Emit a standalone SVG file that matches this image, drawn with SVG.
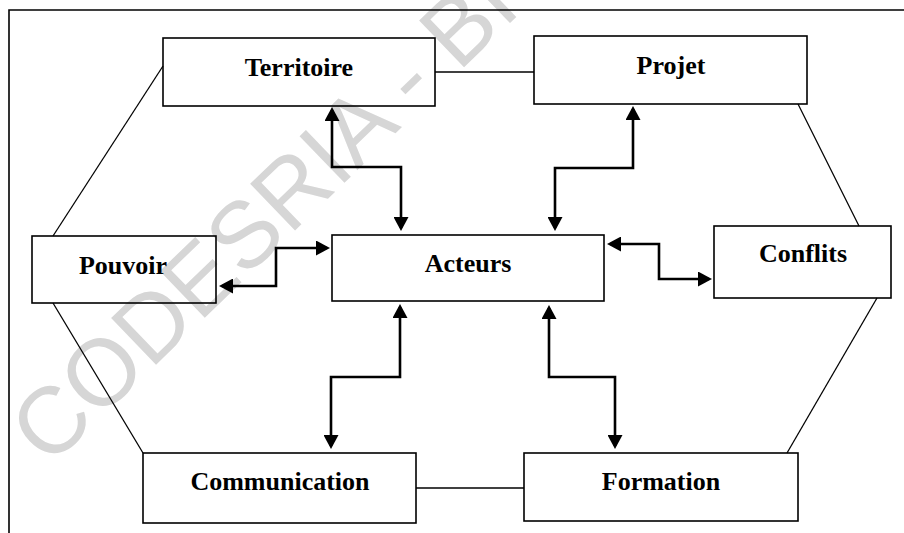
<svg xmlns="http://www.w3.org/2000/svg" width="904" height="533" viewBox="0 0 904 533">
  <style>
    .box { fill: none; stroke: #000; stroke-width: 1.6; }
    .label { font-family: "Liberation Serif", "Times New Roman", serif; font-weight: bold; font-size: 26px; fill: #000; text-anchor: middle; }
    .edge { fill: none; stroke: #000; stroke-width: 1.3; }
    .link { fill: none; stroke: #000; stroke-width: 2.6; stroke-linejoin: miter; marker-start: url(#head); marker-end: url(#head); }
    .frame { fill: none; stroke: #000; stroke-width: 1.6; }
    .mark { font-family: "Liberation Sans", Arial, sans-serif; font-size: 94px; fill: #d6d6d6; }
  </style>
  <defs>
    <marker id="head" viewBox="0 0 14 15" refX="11" refY="7.5" markerWidth="14" markerHeight="15" markerUnits="userSpaceOnUse" orient="auto-start-reverse">
      <path d="M0,0 L14,7.5 L0,15 Z" fill="#000"/>
    </marker>
  </defs>

  <!-- background watermark -->
  <text class="mark" transform="translate(49,468) rotate(-44)">CODESRIA - BI</text>

  <!-- page frame -->
  <path class="frame" d="M9,533 V10 H904"/>

  <!-- connectors -->
  <g id="connectors">
    <!-- outer ring -->
    <line class="edge" x1="163" y1="66" x2="53" y2="236"/>
    <line class="edge" x1="53" y1="303" x2="143" y2="453"/>
    <line class="edge" x1="435" y1="72" x2="534" y2="72"/>
    <line class="edge" x1="798" y1="104" x2="859" y2="226"/>
    <line class="edge" x1="877" y1="298" x2="787" y2="453"/>
    <line class="edge" x1="416" y1="488" x2="524" y2="488"/>
    <!-- links to Acteurs -->
    <path class="link" d="M332,110 V167 H401 V228"/>
    <path class="link" d="M633,109 V168 H555 V228"/>
    <path class="link" d="M327,248 H276 V286 H222"/>
    <path class="link" d="M610,244 H659 V279 H709"/>
    <path class="link" d="M400,307 V377 H331 V446"/>
    <path class="link" d="M549,308 V377 H615 V446"/>
  </g>

  <g id="territoire">
    <rect class="box" x="163" y="38" width="272" height="68"/>
    <text class="label" x="299" y="76">Territoire</text>
  </g>
  <g id="projet">
    <rect class="box" x="534" y="36" width="273" height="68"/>
    <text class="label" x="671" y="74">Projet</text>
  </g>
  <g id="pouvoir">
    <rect class="box" x="32" y="236" width="184" height="67"/>
    <text class="label" x="123" y="274">Pouvoir</text>
  </g>
  <g id="acteurs">
    <rect class="box" x="332" y="235" width="272" height="66"/>
    <text class="label" x="468" y="272">Acteurs</text>
  </g>
  <g id="conflits">
    <rect class="box" x="714" y="226" width="177" height="72"/>
    <text class="label" x="803" y="262">Conflits</text>
  </g>
  <g id="communication">
    <rect class="box" x="143" y="453" width="273" height="70"/>
    <text class="label" x="280" y="490">Communication</text>
  </g>
  <g id="formation">
    <rect class="box" x="524" y="453" width="274" height="68"/>
    <text class="label" x="661" y="490">Formation</text>
  </g>
</svg>
